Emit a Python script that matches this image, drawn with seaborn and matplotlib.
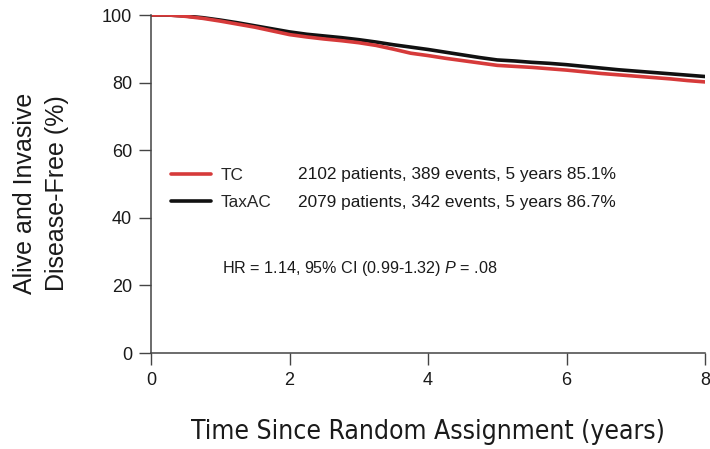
import matplotlib
matplotlib.use("Agg")
import matplotlib.pyplot as plt
from matplotlib.lines import Line2D
import seaborn as sns
import pandas as pd

# Kaplan-Meier estimates (% alive and invasive disease-free), read every quarter year
years = [0, 0.25, 0.5, 0.75, 1, 1.25, 1.5, 1.75, 2, 2.25, 2.5, 2.75, 3, 3.25, 3.5,
         3.75, 4, 4.25, 4.5, 4.75, 5, 5.25, 5.5, 5.75, 6, 6.25, 6.5, 6.75, 7, 7.25,
         7.5, 7.75, 8]
tc_idfs = [100, 100, 99.6, 99.0, 98.2, 97.3, 96.4, 95.3, 94.2, 93.5, 92.9, 92.4,
           91.8, 91.0, 89.9, 88.7, 88.0, 87.2, 86.5, 85.8, 85.1, 84.8, 84.5, 84.1,
           83.7, 83.2, 82.7, 82.3, 81.9, 81.5, 81.1, 80.6, 80.2]
taxac_idfs = [100, 100, 99.7, 99.2, 98.5, 97.7, 96.8, 95.9, 95.0, 94.3, 93.8, 93.3,
              92.7, 92.0, 91.2, 90.5, 89.8, 89.0, 88.2, 87.4, 86.7, 86.4, 86.0, 85.7,
              85.3, 84.8, 84.3, 83.8, 83.4, 83.0, 82.6, 82.2, 81.8]

arms = ["TC", "TaxAC"]
arm_stats = ["2102 patients, 389 events, 5 years 85.1%",
             "2079 patients, 342 events, 5 years 86.7%"]
arm_colors = {"TC": "#d63a3a", "TaxAC": "#111111"}
hr_text = "HR = 1.14, 95% CI (0.99-1.32) $\\mathit{P}$ = .08"

x_ticks = [0, 2, 4, 6, 8]
y_ticks = [0, 20, 40, 60, 80, 100]

df = pd.concat([
    pd.DataFrame({"years": years, "idfs": tc_idfs, "arm": "TC"}),
    pd.DataFrame({"years": years, "idfs": taxac_idfs, "arm": "TaxAC"}),
])

sns.set_theme(style="ticks")
plt.rcParams["font.family"] = ["Liberation Sans", "DejaVu Sans"]
plt.rcParams["mathtext.fontset"] = "custom"
plt.rcParams["mathtext.rm"] = "Liberation Sans"
plt.rcParams["mathtext.it"] = "Liberation Sans:italic"

fig = plt.figure(figsize=(7.10, 4.49), dpi=100)
ax = fig.add_axes([151 / 710, 1 - 353 / 449, 554 / 710, 338 / 449])

sns.lineplot(data=df, x="years", y="idfs", hue="arm", hue_order=["TaxAC", "TC"],
             palette=arm_colors, estimator=None, linewidth=2.6, legend=False, ax=ax)

ax.set_xlim(0, 8)
ax.set_ylim(0, 100)
ax.set_xticks(x_ticks)
ax.set_yticks(y_ticks)
ax.tick_params(axis="both", labelsize=13, length=8.5, width=1.0, color="#444444",
               pad=5, labelcolor="#1a1a1a")
for side in ("top", "right"):
    ax.spines[side].set_visible(False)
for side in ("left", "bottom"):
    ax.spines[side].set_color("#444444")
    ax.spines[side].set_linewidth(1.1)
ax.set_xlabel("")
ax.set_ylabel("")

# legend: line sample + arm name, then the per-arm summary column
handles = [Line2D([], [], color=arm_colors[a], linewidth=2.6) for a in arms]
ax.legend(handles, arms, loc="upper left", bbox_to_anchor=(0.036, 0.548),
          frameon=False, fontsize=12.4, handlelength=2.35, handletextpad=0.55,
          labelspacing=0.72, borderpad=0, borderaxespad=0)
for i, s in enumerate(arm_stats):
    ax.text(0.265, (353 - (174 + 28 * i)) / 338, s, transform=ax.transAxes,
            fontsize=12.4, va="center", ha="left", color="#1a1a1a")
ax.text(0.128, (353 - 268) / 338, hr_text, transform=ax.transAxes,
        fontsize=11.6, va="center", ha="left", color="#1a1a1a")

fig.text(41 / 710, 1 - 193 / 449, "Alive and Invasive\nDisease-Free (%)",
         rotation=90, ha="center", va="center", fontsize=18, color="#1a1a1a",
         linespacing=1.45)
fig.text(428 / 710, 1 - 432 / 449, "Time Since Random Assignment (years)",
         ha="center", va="center", fontsize=19, color="#1a1a1a",
         family="DejaVu Sans", fontstretch="condensed")

fig.savefig("out.png", dpi=100, facecolor="white")
